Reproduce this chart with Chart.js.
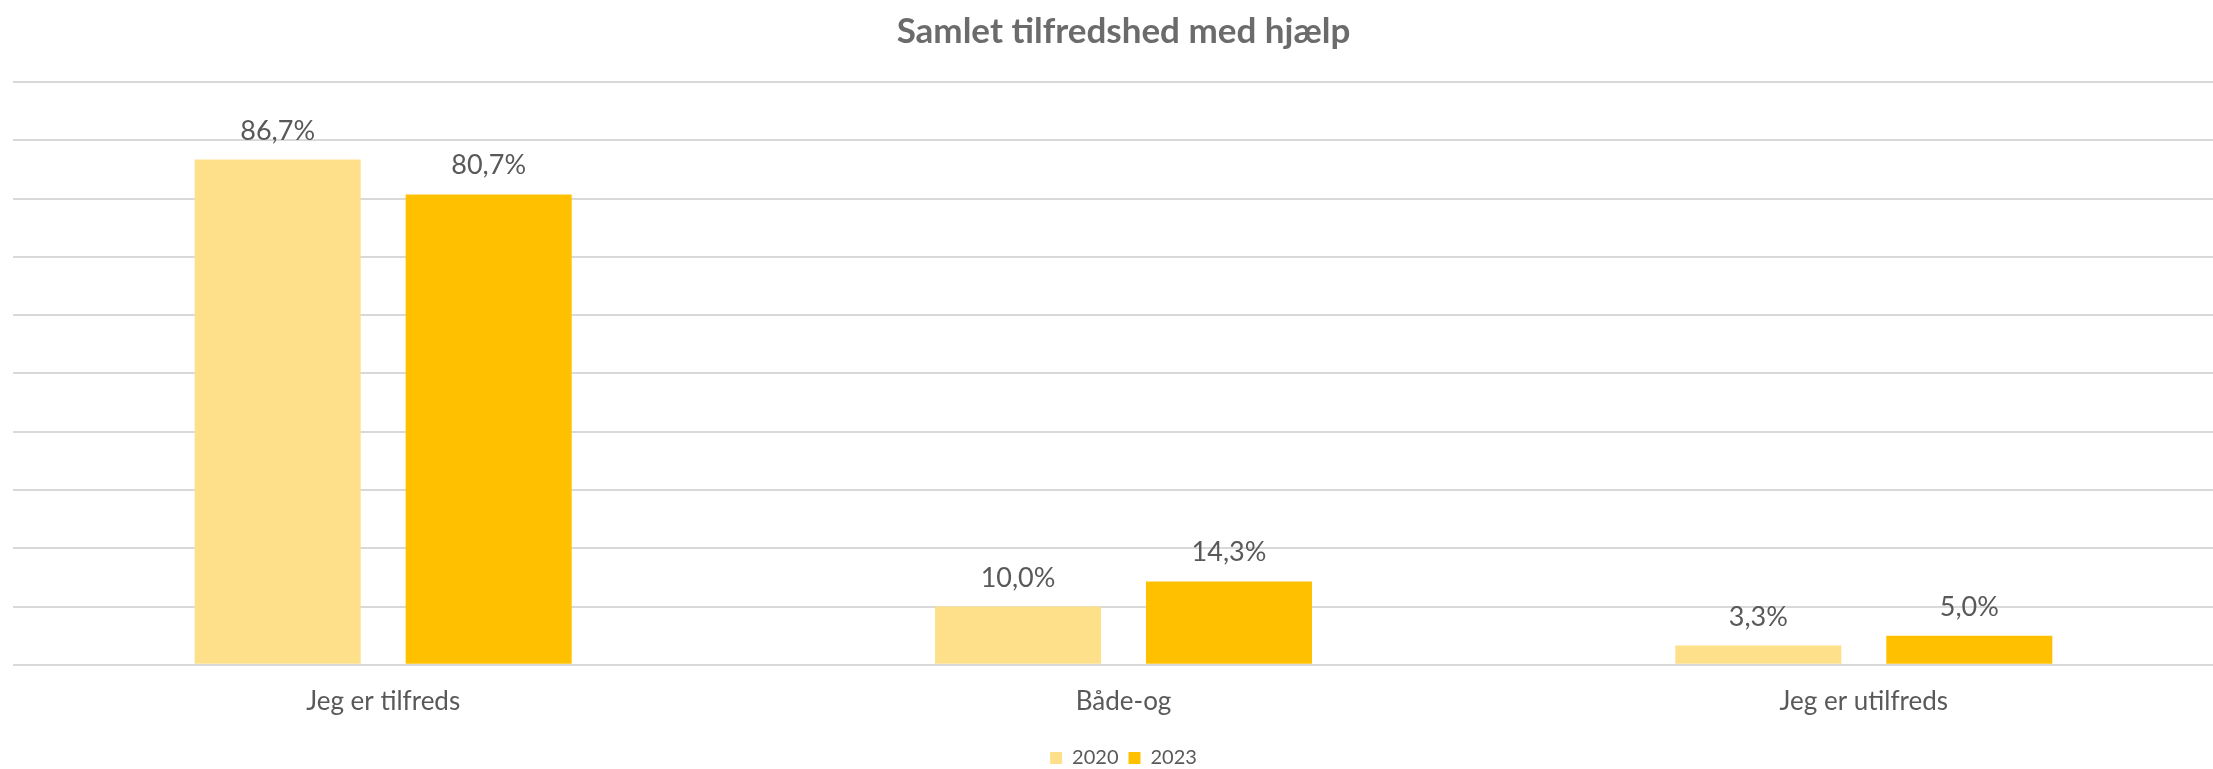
<!DOCTYPE html>
<html>
<head>
<meta charset="utf-8">
<script src="https://cdn.jsdelivr.net/npm/chart.js@4.4.1/dist/chart.umd.min.js"></script>
<style>
  html, body { margin: 0; padding: 0; background: #ffffff; overflow: hidden; }
  #wrap { width: 2234px; height: 778px; }
</style>
</head>
<body>
<div id="wrap"><canvas id="c" width="2234" height="778"></canvas></div>
<script>
const categories = ["Jeg er tilfreds", "Både-og", "Jeg er utilfreds"];
const seriesNames = ["2020", "2023"];
const values2020 = [86.7, 10.0, 3.3];
const values2023 = [80.7, 14.3, 5.0];
const seriesColors = ["#FFE08A", "#FFC000"];
const titleText = "Samlet tilfredshed med hjælp";

const FONT = "Lato, 'Open Sans', sans-serif";
const LABEL_COLOR = "#595959";

const dataLabelPlugin = {
  id: "dataLabels",
  afterDatasetsDraw(chart) {
    const ctx = chart.ctx;
    ctx.save();
    ctx.font = "27px " + FONT;
    ctx.fillStyle = LABEL_COLOR;
    ctx.textAlign = "center";
    ctx.textBaseline = "alphabetic";
    chart.data.datasets.forEach((ds, i) => {
      const meta = chart.getDatasetMeta(i);
      meta.data.forEach((bar, j) => {
        const v = ds.data[j];
        const txt = v.toFixed(1).replace(".", ",") + "%";
        ctx.fillText(txt, bar.x, bar.y - 20);
      });
    });
    ctx.restore();
  }
};

new Chart(document.getElementById("c"), {
  type: "bar",
  data: {
    labels: categories,
    datasets: [
      { label: seriesNames[0], data: values2020, backgroundColor: seriesColors[0] },
      { label: seriesNames[1], data: values2023, backgroundColor: seriesColors[1] }
    ]
  },
  options: {
    responsive: false,
    animation: false,
    devicePixelRatio: 1,
    layout: { padding: { left: 13, right: 0, top: 0, bottom: 0 } },
    datasets: { bar: { categoryPercentage: 0.57, barPercentage: 0.787 } },
    plugins: {
      title: {
        display: true,
        text: titleText,
        color: "#6b6b6b",
        font: { family: FONT, size: 35, weight: "bold" },
        padding: { top: 11, bottom: 29 }
      },
      legend: {
        display: true,
        position: "bottom",
        labels: {
          color: LABEL_COLOR,
          font: { family: FONT, size: 20 },
          boxWidth: 12,
          boxHeight: 12,
          padding: 10
        }
      },
      tooltip: { enabled: false }
    },
    scales: {
      x: {
        grid: { display: false, drawTicks: false },
        border: { display: false },
        ticks: { color: LABEL_COLOR, font: { family: FONT, size: 26 }, padding: 21 }
      },
      y: {
        min: 0, max: 100,
        ticks: { display: false, stepSize: 10 },
        grid: { color: "#d9d9d9", lineWidth: 2, drawTicks: false },
        border: { display: false }
      }
    }
  },
  plugins: [dataLabelPlugin]
});
</script>
</body>
</html>
